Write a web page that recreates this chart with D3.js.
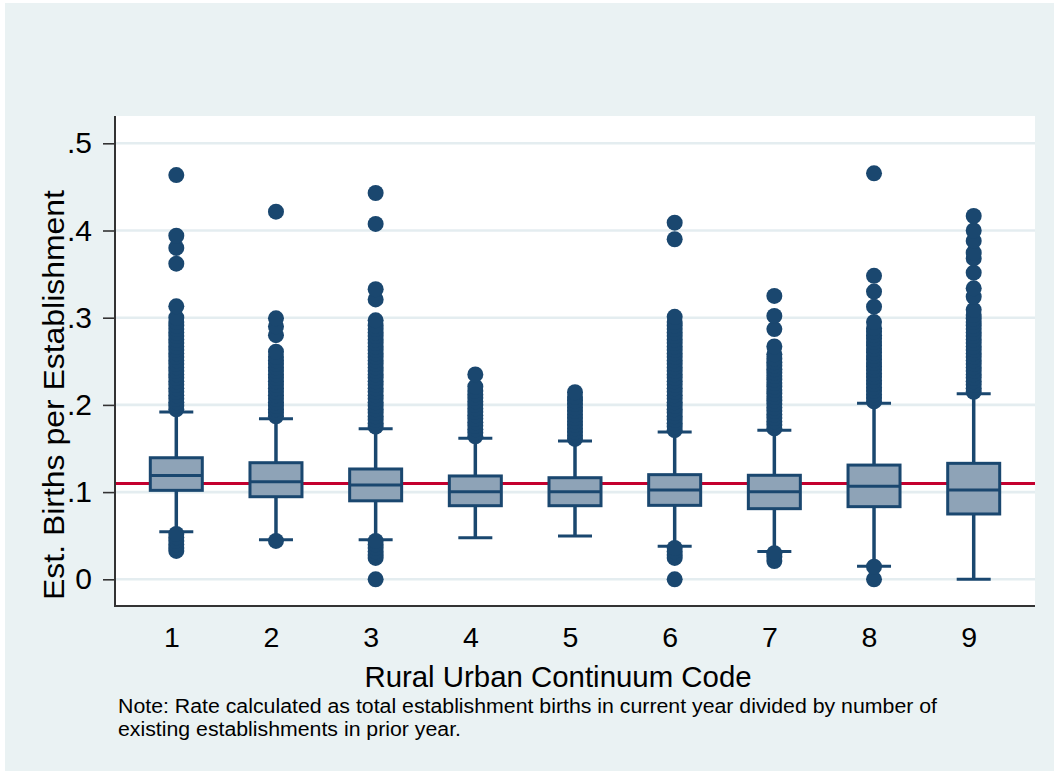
<!DOCTYPE html>
<html><head><meta charset="utf-8">
<script src="https://cdn.jsdelivr.net/npm/d3@7"></script>
<style>body{margin:0;background:#fff}svg{display:block;font-family:"Liberation Sans",Arial,sans-serif}</style>
</head><body><svg id="c" width="1054" height="771"></svg>
<script>
const categories = ["1","2","3","4","5","6","7","8","9"];
const q1 =      [0.102, 0.0947, 0.090, 0.0844, 0.0844, 0.0848, 0.081, 0.0833, 0.0749];
const medians = [0.119, 0.112, 0.108, 0.1005, 0.1005, 0.1024, 0.1005, 0.1066, 0.1024];
const q3 =      [0.1394, 0.1337, 0.1265, 0.1185, 0.1165, 0.120, 0.1193, 0.131, 0.133];
const lowerWhisker = [0.0546, 0.0454, 0.0454, 0.0477, 0.0497, 0.0378, 0.032, 0.0149, 0.0];
const upperWhisker = [0.192, 0.184, 0.1727, 0.1617, 0.1586, 0.169, 0.171, 0.2018, 0.2128];
const outliers1 = [0.0325,0.036,0.040,0.044,0.048,0.052,
  0.195,0.199,0.203,0.207,0.211,0.215,0.219,0.223,0.227,0.231,0.235,0.239,0.243,0.247,0.251,0.255,0.259,0.263,0.267,0.271,0.275,0.279,0.283,0.287,0.291,0.295,0.300,0.313,0.362,0.380,0.394,0.4636];
const outliers2 = [0.044,
  0.187,0.191,0.195,0.199,0.203,0.207,0.211,0.215,0.219,0.223,0.227,0.231,0.235,0.239,0.243,0.247,0.251,0.255,0.261,0.280,0.290,0.2993,0.4216];
const outliers3 = [0.0,0.0245,0.028,0.032,0.036,0.040,0.044,
  0.175,0.179,0.183,0.187,0.191,0.195,0.199,0.203,0.207,0.211,0.215,0.219,0.223,0.227,0.231,0.235,0.239,0.243,0.247,0.251,0.255,0.259,0.263,0.267,0.271,0.275,0.279,0.283,0.287,0.291,0.297,0.321,0.3326,0.4075,0.443];
const outliers4 = [0.164,0.168,0.172,0.176,0.180,0.184,0.188,0.192,0.196,0.200,0.204,0.208,0.212,0.216,0.221,0.235];
const outliers5 = [0.161,0.165,0.169,0.173,0.177,0.181,0.185,0.189,0.193,0.197,0.201,0.205,0.209,0.2145];
const outliers6 = [0.0,0.0245,0.028,0.032,0.036,
  0.171,0.175,0.179,0.183,0.187,0.191,0.195,0.199,0.203,0.207,0.211,0.215,0.219,0.223,0.227,0.231,0.235,0.239,0.243,0.247,0.251,0.255,0.259,0.263,0.267,0.271,0.275,0.279,0.283,0.287,0.291,0.295,0.301,0.390,0.409];
const outliers7 = [0.021,0.026,0.030,
  0.173,0.177,0.181,0.185,0.189,0.193,0.197,0.201,0.205,0.209,0.213,0.217,0.221,0.225,0.229,0.233,0.237,0.241,0.245,0.249,0.253,0.258,0.267,0.287,0.302,0.325];
const outliers8 = [0.0,0.0145,
  0.204,0.208,0.212,0.216,0.220,0.224,0.228,0.232,0.236,0.240,0.244,0.248,0.252,0.256,0.260,0.264,0.268,0.272,0.276,0.280,0.284,0.288,0.295,0.3126,0.330,0.348,0.4656];
const outliers9 = [0.215,0.219,0.223,0.227,0.231,0.235,0.239,0.243,0.247,0.251,0.255,0.259,0.263,0.267,0.271,0.275,0.279,0.283,0.287,0.291,0.295,0.299,0.303,0.309,0.324,0.3337,0.3516,0.368,0.3745,0.388,0.400,0.4166];
const outliers = [outliers1,outliers2,outliers3,outliers4,outliers5,outliers6,outliers7,outliers8,outliers9];
const yTicks = [0, 0.1, 0.2, 0.3, 0.4, 0.5];
const yTickLabels = ["0", ".1", ".2", ".3", ".4", ".5"];
const refLine = 0.11;

const navy = "#1a476f", boxFill = "#8ea3b7", bg = "#eaf2f3";
const svg = d3.select("#c");
const plot = {l:115, r:1035, t:116, b:606};
svg.append("rect").attr("x",5).attr("y",3).attr("width",1049).attr("height",768).attr("fill",bg);
svg.append("rect").attr("x",plot.l).attr("y",plot.t).attr("width",plot.r-plot.l).attr("height",plot.b-plot.t).attr("fill","#fff");

const x = d3.scalePoint().domain(categories).range([plot.l, plot.r]).padding(0.615);
const y = d3.scaleLinear().domain([0, 0.5]).range([579.3, 143.3]);

svg.append("g").selectAll("line").data(yTicks).join("line")
  .attr("x1",plot.l).attr("x2",plot.r).attr("y1",d=>y(d)).attr("y2",d=>y(d))
  .attr("stroke","#e4edf0").attr("stroke-width",2.6);

svg.append("line").attr("x1",plot.l).attr("x2",plot.r).attr("y1",y(refLine)).attr("y2",y(refLine))
  .attr("stroke","#c4002f").attr("stroke-width",3);

const boxW = 52, capW = 34;
const g = svg.append("g");
categories.forEach((c,i)=>{
  const cx = x(c);
  g.append("line").attr("x1",cx).attr("x2",cx).attr("y1",y(q3[i])).attr("y2",y(upperWhisker[i])).attr("stroke",navy).attr("stroke-width",3.5);
  g.append("line").attr("x1",cx).attr("x2",cx).attr("y1",y(q1[i])).attr("y2",y(lowerWhisker[i])).attr("stroke",navy).attr("stroke-width",3.5);
  [upperWhisker[i], lowerWhisker[i]].forEach(v=>{
    g.append("line").attr("x1",cx-capW/2).attr("x2",cx+capW/2).attr("y1",y(v)).attr("y2",y(v)).attr("stroke",navy).attr("stroke-width",3);
  });
  g.append("rect").attr("x",cx-boxW/2).attr("width",boxW).attr("y",y(q3[i])).attr("height",y(q1[i])-y(q3[i]))
    .attr("fill",boxFill).attr("stroke",navy).attr("stroke-width",3);
  g.append("line").attr("x1",cx-boxW/2).attr("x2",cx+boxW/2).attr("y1",y(medians[i])).attr("y2",y(medians[i])).attr("stroke",navy).attr("stroke-width",3);
  g.append("g").selectAll("circle").data(outliers[i]).join("circle")
    .attr("cx",cx).attr("cy",d=>y(d)).attr("r",8).attr("fill",navy);
});

const yAxis = d3.axisLeft(y).tickValues(yTicks).tickFormat((d,i)=>yTickLabels[i]).tickSize(12).tickSizeOuter(0).tickPadding(11);
const ya = svg.append("g").attr("transform",`translate(${plot.l},0)`).call(yAxis);
ya.select(".domain").remove();
ya.selectAll(".tick line").attr("stroke","#333").attr("stroke-width",1.6);
ya.selectAll("text").attr("font-size",30).attr("fill","#000").attr("font-family","Liberation Sans, Arial, sans-serif");
svg.append("line").attr("x1",plot.l).attr("x2",plot.l).attr("y1",plot.t).attr("y2",plot.b+1).attr("stroke","#333").attr("stroke-width",2);

const xAxis = d3.axisBottom(x).tickSize(0).tickPadding(21);
const xa = svg.append("g").attr("transform",`translate(-5,${plot.b})`).call(xAxis);
xa.select(".domain").remove();
xa.selectAll("text").attr("font-size",28.5).attr("fill","#000").attr("font-family","Liberation Sans, Arial, sans-serif");
svg.append("line").attr("x1",plot.l-1).attr("x2",plot.r).attr("y1",plot.b).attr("y2",plot.b).attr("stroke","#333").attr("stroke-width",2);

svg.append("text").attr("x",558).attr("y",687).attr("text-anchor","middle").attr("font-size",29.4).text("Rural Urban Continuum Code");
svg.append("text").attr("transform","translate(64,395) rotate(-90)").attr("text-anchor","middle").attr("font-size",30)
  .attr("textLength",410).attr("lengthAdjust","spacingAndGlyphs").text("Est. Births per Establishment");
svg.append("text").attr("x",118).attr("y",713).attr("font-size",19.5)
  .attr("textLength",819).attr("lengthAdjust","spacingAndGlyphs")
  .text("Note: Rate calculated as total establishment births in current year divided by number of");
svg.append("text").attr("x",118).attr("y",736).attr("font-size",19.5)
  .attr("textLength",343).attr("lengthAdjust","spacingAndGlyphs")
  .text("existing establishments in prior year.");
</script></body></html>
